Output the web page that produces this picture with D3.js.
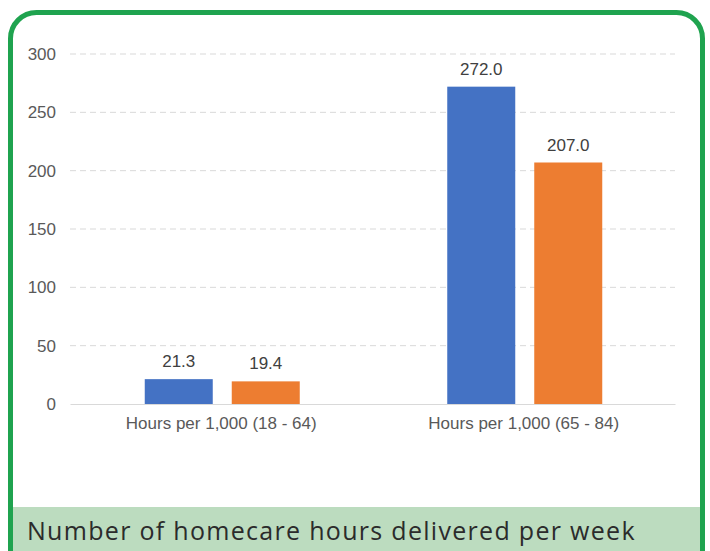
<!DOCTYPE html>
<html>
<head>
<meta charset="utf-8">
<script src="https://cdn.jsdelivr.net/npm/d3@7"></script>
<style>
  body { margin: 0; background: #fff; }
  svg { display: block; }
</style>
</head>
<body>
<div id="chart"></div>
<script>
// chart data
const categories = ["Hours per 1,000 (18 - 64)", "Hours per 1,000 (65 - 84)"];
const seriesNames = ["Series A", "Series B"];
const seriesA = [21.3, 272.0];
const seriesB = [19.4, 207.0];
const yTicks = [0, 50, 100, 150, 200, 250, 300];
const footerText = "Number of homecare hours delivered per week";

const W = 710, H = 551;
const colors = ["#4472C4", "#ED7D31"];
const axisFont = "'Liberation Sans', Arial, sans-serif";

const svg = d3.select("#chart").append("svg")
    .attr("width", W)
    .attr("height", H);

// frame with rounded top corners, running off the bottom
svg.append("rect")
    .attr("x", 10.5).attr("y", 12.5)
    .attr("width", 692).attr("height", 600)
    .attr("rx", 26)
    .attr("fill", "#fff")
    .attr("stroke", "#1fa34f")
    .attr("stroke-width", 5);

// footer band
svg.append("rect")
    .attr("x", 13).attr("y", 507)
    .attr("width", 687).attr("height", 44)
    .attr("fill", "#bcdcbf");

svg.append("text")
    .attr("x", 27).attr("y", 540)
    .attr("font-family", "'Open Sans', sans-serif")
    .attr("font-size", 25)
    .attr("letter-spacing", 1.3)
    .attr("fill", "#2b2b2b")
    .text(footerText);

const margin = { left: 70, right: 35, top: 54 };
const plotW = W - margin.left - margin.right;
const plotH = 404 - margin.top;

const g = svg.append("g").attr("transform", `translate(${margin.left},${margin.top})`);

const x = d3.scaleBand().domain(categories).range([0, plotW]);
const y = d3.scaleLinear().domain([0, 300]).range([plotH, 0]);

// gridlines
g.selectAll(".grid")
    .data(yTicks.filter(d => d > 0))
    .enter().append("line")
    .attr("x1", 0).attr("x2", plotW)
    .attr("y1", d => y(d)).attr("y2", d => y(d))
    .attr("stroke", "#d9d9d9")
    .attr("stroke-dasharray", "6,4");

// y axis labels
const yAxis = g.append("g")
    .call(d3.axisLeft(y).tickValues(yTicks).tickSize(0).tickPadding(14));
yAxis.select(".domain").remove();
yAxis.selectAll("text")
    .attr("font-family", axisFont)
    .attr("font-size", 17)
    .attr("fill", "#595959");

// x axis
const xAxis = g.append("g")
    .attr("transform", `translate(0,${plotH})`)
    .call(d3.axisBottom(x).tickSize(0).tickPadding(13));
xAxis.select(".domain").attr("stroke", "#d9d9d9");
xAxis.selectAll("text")
    .attr("font-family", axisFont)
    .attr("font-size", 17)
    .attr("fill", "#595959");

// bars
const barW = 68, gap = 19;
const x1 = d3.scaleOrdinal().domain(seriesNames)
    .range([-(barW + gap) / 2 - barW / 2 + 1, (barW + gap) / 2 - barW / 2 + 1]);

const rows = categories.map((c, i) => ({ cat: c, vals: [seriesA[i], seriesB[i]] }));

const groups = g.selectAll(".grp")
    .data(rows)
    .enter().append("g")
    .attr("transform", d => `translate(${x(d.cat) + x.bandwidth() / 2},0)`);

groups.selectAll("rect")
    .data(d => d.vals.map((v, j) => ({ name: seriesNames[j], v: v, j: j })))
    .enter().append("rect")
    .attr("x", d => x1(d.name))
    .attr("y", d => y(d.v))
    .attr("width", barW)
    .attr("height", d => plotH - y(d.v))
    .attr("fill", d => colors[d.j]);

groups.selectAll(".lbl")
    .data(d => d.vals.map((v, j) => ({ name: seriesNames[j], v: v })))
    .enter().append("text")
    .attr("x", d => x1(d.name) + barW / 2)
    .attr("y", d => y(d.v) - 12)
    .attr("text-anchor", "middle")
    .attr("font-family", axisFont)
    .attr("font-size", 17)
    .attr("fill", "#404040")
    .text(d => d.v.toFixed(1));
</script>
</body>
</html>
